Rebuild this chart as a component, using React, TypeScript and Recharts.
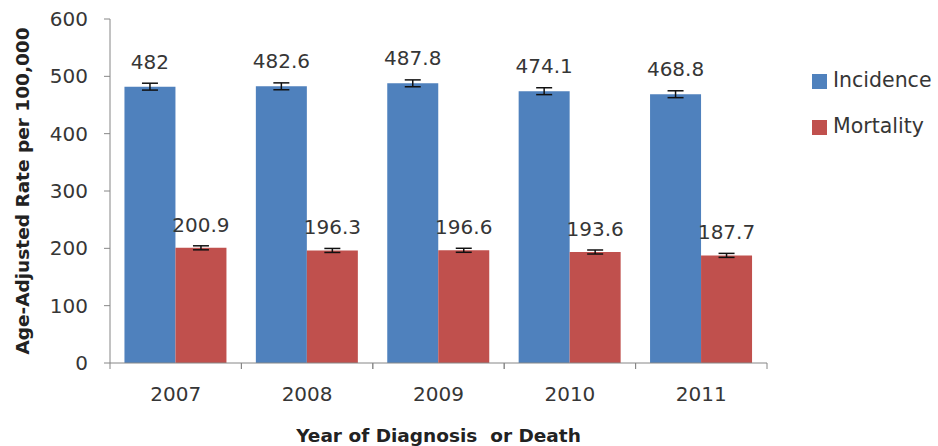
import React from "react";
import {
  BarChart, Bar, XAxis, YAxis, Legend, LabelList, ErrorBar,
} from "recharts";

const YEARS = ["2007", "2008", "2009", "2010", "2011"];
const INCIDENCE = [482, 482.6, 487.8, 474.1, 468.8];
const MORTALITY = [200.9, 196.3, 196.6, 193.6, 187.7];
const INCIDENCE_ERR = [6, 6, 6, 6, 6];
const MORTALITY_ERR = [3.5, 3.5, 3.5, 3.5, 3.5];
const Y_TICKS = [0, 100, 200, 300, 400, 500, 600];

const data = YEARS.map((year, i) => ({
  year,
  incidence: INCIDENCE[i],
  mortality: MORTALITY[i],
  incErr: INCIDENCE_ERR[i],
  morErr: MORTALITY_ERR[i],
}));

const FONT = "'DejaVu Sans', sans-serif";
const INK = "#363636";

// Excel style: category label in the middle, tick marks at the band edges
function YearTick(props: any) {
  const { x, y, payload } = props;
  const half = payload.offset || 0;
  return (
    <g>
      <line x1={x - half} x2={x - half} y1={y - 8} y2={y - 2} stroke="#868686" />
      <line x1={x + half} x2={x + half} y1={y - 8} y2={y - 2} stroke="#868686" />
      <text x={x} y={y + 30} textAnchor="middle" fontSize={20} fill={INK} fontFamily={FONT}>
        {payload.value}
      </text>
    </g>
  );
}

export default function App() {
  return (
    <div style={{ position: "absolute", left: 0, top: 0, background: "#fff" }}>
      <BarChart
        width={938}
        height={446}
        data={data}
        margin={{ top: 19, right: 171, bottom: 0, left: 0 }}
        barCategoryGap="11%"
        barGap={0}
      >
        <XAxis
          dataKey="year"
          axisLine={{ stroke: "#868686" }}
          tickLine={false}
          tick={<YearTick />}
          height={83}
          label={{
            value: "Year of Diagnosis\u00A0 or Death",
            position: "insideBottom",
            offset: 4,
            style: { fontFamily: FONT, fontSize: 18.5, fontWeight: 700, fill: "#222" },
          }}
        />
        <YAxis
          domain={[0, 600]}
          ticks={Y_TICKS}
          width={110}
          axisLine={{ stroke: "#868686" }}
          tickLine={{ stroke: "#868686" }}
          tickSize={6}
          tickMargin={16}
          tick={{ fontSize: 20, fill: INK, fontFamily: FONT }}
          label={{
            value: "Age-Adjusted Rate per 100,000",
            angle: -90,
            position: "insideLeft",
            offset: 22,
            style: { textAnchor: "middle", fontFamily: FONT, fontSize: 18.5, fontWeight: 700, fill: "#222" },
          }}
        />
        <Legend
          layout="vertical"
          align="center"
          verticalAlign="middle"
          iconType="square"
          iconSize={15}
          wrapperStyle={{ left: 812, top: 57, width: 130, fontFamily: FONT, fontSize: 20.5, lineHeight: "46px" }}
          formatter={(v: string) => <span style={{ color: INK, marginLeft: 2 }}>{v}</span>}
        />
        <Bar dataKey="incidence" name="Incidence" fill="#4F81BD" isAnimationActive={false}>
          <ErrorBar dataKey="incErr" width={8} stroke="#111" strokeWidth={1.5} />
          <LabelList dataKey="incidence" position="top" offset={18} fill={INK} fontSize={20} fontFamily={FONT} />
        </Bar>
        <Bar dataKey="mortality" name="Mortality" fill="#C0504D" isAnimationActive={false}>
          <ErrorBar dataKey="morErr" width={8} stroke="#111" strokeWidth={1.5} />
          <LabelList dataKey="mortality" position="top" offset={16} fill={INK} fontSize={20} fontFamily={FONT} />
        </Bar>
      </BarChart>
    </div>
  );
}
